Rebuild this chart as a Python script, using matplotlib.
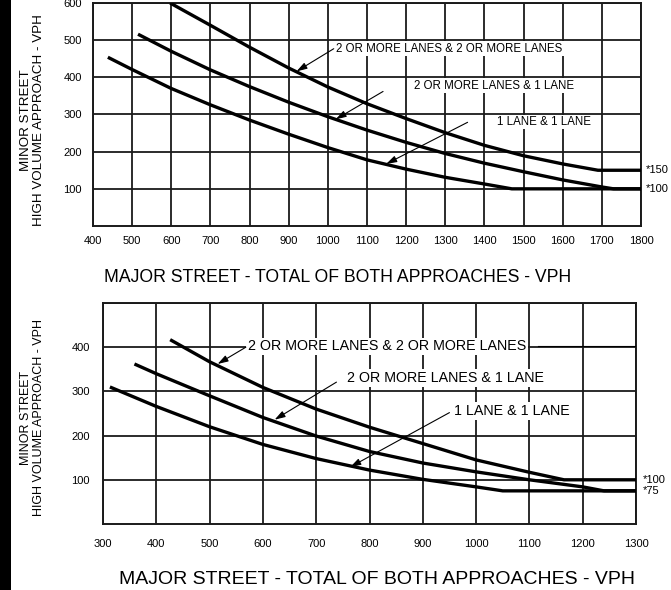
import matplotlib
matplotlib.use("Agg")
import matplotlib.pyplot as plt
from matplotlib.patches import Rectangle

plt.rcParams['font.family'] = ['Liberation Sans', 'DejaVu Sans']

# Upper chart (Figure A) - curve readings, VPH
top_x_2x2 = [597, 700, 800, 900, 1000, 1100, 1200, 1300, 1400, 1500, 1600, 1690, 1800]
top_y_2x2 = [600, 540, 481, 425, 374, 329, 289, 251, 217, 189, 167, 150, 150]
top_x_2x1 = [515, 600, 700, 800, 900, 1000, 1100, 1200, 1300, 1400, 1500, 1600, 1700, 1730, 1800]
top_y_2x1 = [516, 470, 420, 375, 333, 294, 258, 225, 195, 169, 146, 124, 105, 100, 100]
top_x_1x1 = [438, 500, 600, 700, 800, 900, 1000, 1100, 1200, 1300, 1400, 1470, 1800]
top_y_1x1 = [454, 421, 370, 326, 285, 247, 211, 178, 153, 131, 113, 100, 100]

# Lower chart (Figure B)
bot_x_2x2 = [426, 500, 600, 700, 800, 900, 1000, 1100, 1165, 1300]
bot_y_2x2 = [417, 367, 309, 260, 219, 182, 145, 117, 100, 100]
bot_x_2x1 = [359, 400, 500, 600, 700, 800, 900, 1000, 1100, 1200, 1240, 1300]
bot_y_2x1 = [362, 340, 290, 241, 199, 164, 138, 118, 100, 84, 75, 75]
bot_x_1x1 = [313, 400, 500, 600, 700, 800, 900, 1000, 1050, 1300]
bot_y_1x1 = [310, 266, 220, 180, 148, 122, 101, 84, 75, 75]

labels = ["2 OR MORE LANES & 2 OR MORE LANES",
          "2 OR MORE LANES & 1 LANE",
          "1 LANE & 1 LANE"]
top_floors = ["*150", "*100"]
top_floor_vals = [150, 100]
bot_floors = ["*100", "*75"]
bot_floor_vals = [100, 75]

XLAB = "MAJOR STREET - TOTAL OF BOTH APPROACHES - VPH"
YLAB = "MINOR STREET\nHIGH VOLUME APPROACH - VPH"

W, H = 671, 590
fig = plt.figure(figsize=(W / 100, H / 100), dpi=100)
fig.patches.append(Rectangle((0, 0), 11 / W, 1, transform=fig.transFigure,
                             facecolor='black', edgecolor='none'))


def make_axes(l, t, r, b):
    return fig.add_axes([l / W, 1 - b / H, (r - l) / W, (b - t) / H])


def style(ax, xlim, ylim, xticks, yticks, ylabels, xpad, ypad):
    ax.set_xlim(*xlim)
    ax.set_ylim(*ylim)
    ax.set_xticks(xticks)
    ax.set_yticks(yticks)
    ax.set_yticklabels(ylabels)
    ax.tick_params(length=0, labelsize=8)
    ax.tick_params(axis='x', pad=xpad)
    ax.tick_params(axis='y', pad=ypad)
    ax.grid(True, color='#1a1a1a', lw=1.3)
    ax.set_axisbelow(True)
    for s in ax.spines.values():
        s.set_linewidth(1.4)
        s.set_color('#1a1a1a')


def leader(ax, start, tip):
    ax.annotate('', xy=tip, xytext=start, zorder=5,
                arrowprops=dict(arrowstyle='-|>,head_length=0.7,head_width=0.22',
                                lw=0.8, color='black', shrinkA=0, shrinkB=0,
                                mutation_scale=9))


box = dict(facecolor='white', edgecolor='none', boxstyle='square,pad=0.12')

# ---------------- upper chart ----------------
ax1 = make_axes(93, 3, 641, 226)
style(ax1, (400, 1800), (0, 600), range(400, 1801, 100), range(100, 601, 100),
      [str(v) for v in range(100, 601, 100)], 7, 8)
for xs, ys in [(top_x_2x2, top_y_2x2), (top_x_2x1, top_y_2x1), (top_x_1x1, top_y_1x1)]:
    ax1.plot(xs, ys, color='black', lw=2.4, zorder=3, solid_capstyle='butt')

ax1.text(1022, 477, labels[0], fontsize=8.3, va='center', ha='left', bbox=box, zorder=4)
ax1.text(1221, 377, labels[1], fontsize=8.3, va='center', ha='left', bbox=box, zorder=4)
ax1.text(1433, 280, labels[2], fontsize=8.3, va='center', ha='left', bbox=box, zorder=4)
leader(ax1, (1015, 477), (920, 416))
leader(ax1, (1141, 362), (1020, 287))
leader(ax1, (1357, 279), (1149, 167))
for txt, v in zip(top_floors, top_floor_vals):
    ax1.text(1813, v, txt, fontsize=8, va='center', ha='left', clip_on=False)

fig.text(32.5 / W, 1 - 120 / H, YLAB, rotation=90, ha='center', va='center',
         multialignment='center', fontsize=9.6, linespacing=1.1)
fig.text(338 / W, 1 - 278 / H, XLAB, ha='center', va='center', fontsize=12.7)

# ---------------- lower chart ----------------
ax2 = make_axes(103, 303, 636, 524)
style(ax2, (300, 1300), (0, 500), range(300, 1301, 100), range(100, 501, 100),
      ['100', '200', '300', '400', ''], 11, 9.5)
for xs, ys in [(bot_x_2x2, bot_y_2x2), (bot_x_2x1, bot_y_2x1), (bot_x_1x1, bot_y_1x1)]:
    ax2.plot(xs, ys, color='black', lw=2.4, zorder=3, solid_capstyle='butt')

ax2.text(572, 402, labels[0], fontsize=10.3, va='center', ha='left', bbox=box, zorder=4)
ax2.plot([1116, 1300], [402, 402], color='black', lw=0.8, zorder=3)
ax2.text(757, 330, labels[1], fontsize=10.3, va='center', ha='left', bbox=box, zorder=4)
ax2.text(959, 256, labels[2], fontsize=10.3, va='center', ha='left', bbox=box, zorder=4)
leader(ax2, (568, 400), (515, 362))
leader(ax2, (738, 321), (622, 236))
leader(ax2, (950, 252), (764, 129))
for txt, v in zip(bot_floors, bot_floor_vals):
    ax2.text(1312, v, txt, fontsize=8, va='center', ha='left', clip_on=False)

fig.text(32.5 / W, 1 - 418 / H, YLAB, rotation=90, ha='center', va='center',
         multialignment='center', fontsize=9, linespacing=1.1)
fig.text(377 / W, 1 - 579 / H, XLAB, ha='center', va='center', fontsize=14)

fig.savefig('out.png', dpi=100)
